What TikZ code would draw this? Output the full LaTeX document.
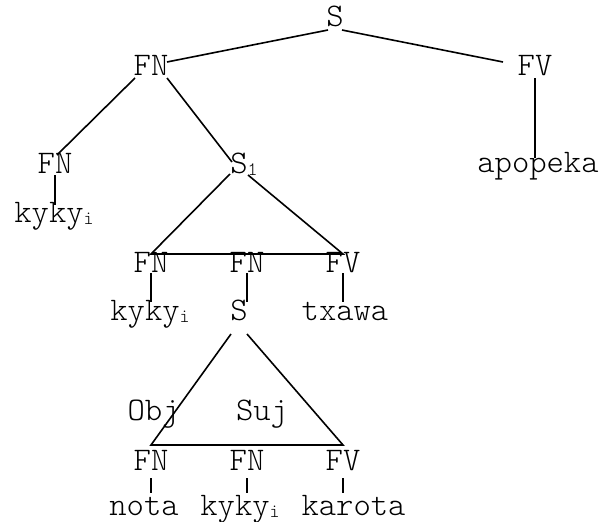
\documentclass[tikz,border=0pt]{standalone}
\tikzset{
  lbl/.style={anchor=base, inner sep=0pt, font=\ttfamily\fontseries{l}\fontsize{33}{33}\selectfont},
  edge/.style={draw=black, line width=1.6pt}
}
\newcommand{\subi}[1]{\raisebox{-2pt}{\fontsize{19}{19}\selectfont #1}}
\begin{document}
\begin{tikzpicture}[x=1pt,y=-1pt]
\path[use as bounding box] (0,0) rectangle (600,522);
% nodes
\node[lbl] (S)   at (335,27) {S};
\node[lbl] (FN)  at (151,75) {FN};
\node[lbl] (FV)  at (535,75) {FV};
\node[lbl] (apo) at (538,172) {apopeka};
\node[lbl] (FNl) at (55,173) {FN};
\node[lbl] (ky1) at (54,222) {kyky\subi{i}};
\node[lbl] (S1)  at (244,173) {S\subi{1}};
\node[lbl] (FNa) at (151,272) {FN};
\node[lbl] (FNc) at (247,272) {FN};
\node[lbl] (FVa) at (343,272) {FV};
\node[lbl] (ky2) at (150,320) {kyky\subi{i}};
\node[lbl] (S2)  at (239,320) {S};
\node[lbl] (tx)  at (345,320) {txawa};
\node[lbl] (obj) at (153.5,420) {Obj};
\node[lbl] (suj) at (262,420) {Suj};
\node[lbl] (FNb) at (151,470) {FN};
\node[lbl] (FNd) at (247,470) {FN};
\node[lbl] (FVb) at (343,470) {FV};
\node[lbl] (nota) at (144,515) {nota};
\node[lbl] (ky3) at (240,515) {kyky\subi{i}};
\node[lbl] (kar) at (353.5,515) {karota};
% connectors
\draw[edge] ([shift={(-7,3)}]S.base) -- ([shift={(16,-13)}]FN.base);
\draw[edge] ([shift={(7,3)}]S.base) -- ([shift={(-32,-13)}]FV.base);
\draw[edge] ([shift={(0,3)}]FV.base) -- ([shift={(-3,-14)}]apo.base);
\draw[edge] ([shift={(-16,3)}]FN.base) -- ([shift={(2,-18)}]FNl.base);
\draw[edge] ([shift={(16,3)}]FN.base) -- ([shift={(-12,-11)}]S1.base);
\draw[edge] ([shift={(0,2)}]FNl.base) -- ([shift={(1,-17)}]ky1.base);
\draw[edge] ([shift={(-14,1)}]S1.base) -- ([shift={(0,-18)}]FNa.base)
            -- ([shift={(0,-18)}]FVa.base) -- ([shift={(4,2)}]S1.base);
\draw[edge] ([shift={(0,1)}]FNa.base) -- ([shift={(1,-18)}]ky2.base);
\draw[edge] ([shift={(0,1)}]FNc.base) -- ([shift={(8,-18)}]S2.base);
\draw[edge] ([shift={(0,1)}]FVa.base) -- ([shift={(-2,-18)}]tx.base);
\draw[edge] ([shift={(-8,14)}]S2.base) -- ([shift={(0,-25)}]FNb.base)
            -- ([shift={(0,-25)}]FVb.base) -- ([shift={(8,14)}]S2.base);
\draw[edge] ([shift={(0,8)}]FNb.base) -- ([shift={(7,-22)}]nota.base);
\draw[edge] ([shift={(0,8)}]FNd.base) -- ([shift={(7,-22)}]ky3.base);
\draw[edge] ([shift={(0,8)}]FVb.base) -- ([shift={(-10.5,-22)}]kar.base);
\end{tikzpicture}
\end{document}
